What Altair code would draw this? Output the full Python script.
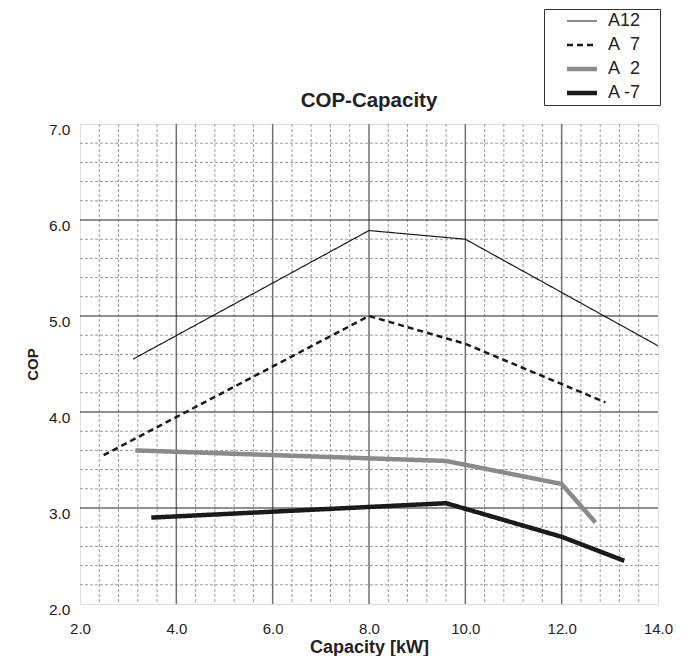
import altair as alt
import numpy as np
import pandas as pd

# ---- data ----
NB = "\u00a0"
series_names = ["A12", "A" + NB * 2 + "7", "A" + NB * 2 + "2", "A -7"]
series_widths = [1.2, 2.5, 4.5, 4.5]
series_colors = ["#1a1a1a", "#1a1a1a", "#8a8a8a", "#1a1a1a"]
series_dashes = [[1, 0], [6, 4], [1, 0], [1, 0]]

a12_x = [3.1, 8.0, 10.0, 14.0]
a12_y = [4.55, 5.89, 5.80, 4.69]

a7_x = [2.49, 8.0, 10.0, 12.91]
a7_y = [3.55, 5.0, 4.71, 4.10]

a2_x = [3.15, 9.6, 12.0, 12.7]
a2_y = [3.60, 3.49, 3.25, 2.85]

am7_x = [3.48, 9.6, 12.0, 13.3]
am7_y = [2.90, 3.05, 2.70, 2.45]

x_ticks = [2, 4, 6, 8, 10, 12, 14]
y_ticks = [2, 3, 4, 5, 6, 7]

rows = []
for name, w, xs, ys in zip(series_names, series_widths,
                           [a12_x, a7_x, a2_x, am7_x], [a12_y, a7_y, a2_y, am7_y]):
    for i, (xv, yv) in enumerate(zip(xs, ys)):
        rows.append({"series": name, "w": w, "cap": xv, "cop": yv, "order": i})
df = pd.DataFrame(rows)

minor_x = [v for v in np.round(np.arange(2.4, 14.0, 0.4), 2) if abs(v / 2 - round(v / 2)) > 1e-6]
minor_y = [v for v in np.round(np.arange(2.2, 7.0, 0.2), 2) if abs(v - round(v)) > 1e-6]
major_x = x_ticks[1:-1]
major_y = y_ticks[1:-1]

FONT = "Liberation Sans"
xscale = alt.Scale(domain=[2, 14], nice=False, zero=False)
yscale = alt.Scale(domain=[2, 7], nice=False, zero=False)

x_axis = alt.Axis(
    values=x_ticks, format=".1f", title="Capacity [kW]",
    ticks=False, tickSize=0, domain=False, grid=False,
    labelFont=FONT, labelFontSize=15, labelColor="#222",
    labelBaseline="alphabetic", labelPadding=29, labelFlush=False,
    titleFont=FONT, titleFontSize=18, titleFontWeight="bold",
    titleColor="#222", titlePadding=2,
)
y_axis = alt.Axis(
    values=y_ticks, format=".1f", title="COP",
    ticks=False, tickSize=0, domain=False, grid=False,
    labelFont=FONT, labelFontSize=15.5, labelColor="#222",
    labelPadding=10, labelOffset=5, labelFlush=False,
    titleFont=FONT, titleFontSize=15, titleFontWeight="bold",
    titleColor="#222", titlePadding=8,
)

minor_xr = alt.Chart(pd.DataFrame({"v": minor_x})).mark_rule(
    color="#9a9a9a", strokeWidth=1, strokeDash=[3, 2]
).encode(x=alt.X("v:Q", scale=xscale, axis=x_axis))

minor_yr = alt.Chart(pd.DataFrame({"v": minor_y})).mark_rule(
    color="#9a9a9a", strokeWidth=1, strokeDash=[3, 2]
).encode(y=alt.Y("v:Q", scale=yscale, axis=y_axis))

major_xr = alt.Chart(pd.DataFrame({"v": major_x})).mark_rule(
    color="#707070", strokeWidth=1.5
).encode(x=alt.X("v:Q", scale=xscale, axis=x_axis))

major_yr = alt.Chart(pd.DataFrame({"v": major_y})).mark_rule(
    color="#222222", strokeWidth=1.2
).encode(y=alt.Y("v:Q", scale=yscale, axis=y_axis))

width_expr = ("datum.value == '{a}' ? {wa} : datum.value == '{b}' ? {wb} : {wc}"
              .format(a=series_names[0], wa=series_widths[0],
                      b=series_names[1], wb=series_widths[1], wc=series_widths[2]))

legend = alt.Legend(
    title=NB, titleOrient="right", titlePadding=16, titleFontSize=10,
    orient="none", legendX=464, legendY=-115,
    strokeColor="#333", fillColor="white", padding=3,
    symbolType="M-1.25,0H1.25", symbolSize=576, symbolOffset=26,
    symbolStrokeWidth=alt.ExprRef(width_expr),
    labelOffset=17, labelFont=FONT, labelFontSize=18, labelColor="#222",
    rowPadding=6,
)

lines = alt.Chart(df).mark_line(strokeCap="butt", strokeJoin="miter").encode(
    x=alt.X("cap:Q", scale=xscale, axis=x_axis),
    y=alt.Y("cop:Q", scale=yscale, axis=y_axis),
    color=alt.Color(
        "series:N",
        scale=alt.Scale(domain=series_names, range=series_colors),
        sort=series_names, legend=legend,
    ),
    strokeDash=alt.StrokeDash(
        "series:N",
        scale=alt.Scale(domain=series_names, range=series_dashes),
        sort=series_names, legend=legend,
    ),
    strokeWidth=alt.StrokeWidth("w:Q", scale=None, legend=None),
    order="order:Q",
    detail="series:N",
)

chart = alt.layer(minor_xr, minor_yr, major_xr, major_yr, lines).properties(
    width=578,
    height=480,
    title=alt.TitleParams(
        "COP-Capacity", font=FONT, fontSize=20.5, fontWeight="bold", color="#222",
        anchor="middle", baseline="alphabetic", offset=0, dy=119, frame="group",
    ),
    autosize=alt.AutoSizeParams(type="none"),
    padding={"left": 72, "top": 116, "right": 26, "bottom": 52},
).configure_view(
    stroke="#3a3a3a", strokeWidth=2
).configure(background="white")

chart.save("out.html", embed_options={"renderer": "svg", "actions": False})
